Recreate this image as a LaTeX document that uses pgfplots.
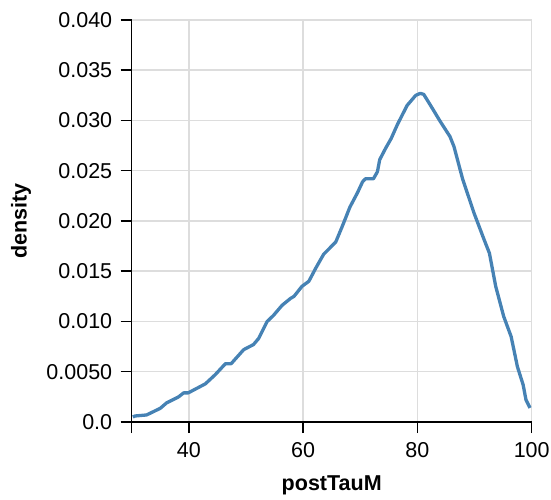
\documentclass[border=0pt]{standalone}
\usepackage{fontspec}
\setmainfont{Liberation Sans}
\usepackage{pgfplots}
\pgfplotsset{compat=1.18}
\definecolor{vblue}{HTML}{4682B4}
\definecolor{vgrid}{HTML}{DDDDDD}
\begin{document}
\begin{tikzpicture}[x=1bp,y=1bp]
\path[use as bounding box] (0,0) rectangle (551,500);
\begin{axis}[
  at={(131.7bp,78bp)}, anchor=south west,
  scale only axis, width=400bp, height=402bp,
  xmin=30, xmax=100, ymin=0, ymax=0.04,
  axis lines*=left,
  axis line style={line width=1.5bp, black},
  xtick={40,60,80,100},
  extra x ticks={30}, extra x tick labels={},
  extra x tick style={grid=none},
  ytick={0,0.005,0.01,0.015,0.02,0.025,0.03,0.035,0.04},
  yticklabels={0.0,0.0050,0.010,0.015,0.020,0.025,0.030,0.035,0.040},
  scaled y ticks=false,
  tick align=outside, major tick length=11bp,
  tick style={line width=1.5bp, black},
  grid=major, major grid style={line width=1.5bp, vgrid},
  /pgf/number format/assume math mode=true,
  ticklabel style={font=\fontsize{21.5bp}{25bp}\selectfont},
  xticklabel style={yshift=-6bp},
  yticklabel style={xshift=-5bp},
  xlabel={postTauM}, ylabel={density},
  label style={font=\fontsize{21.5bp}{25bp}\selectfont\bfseries},
  xlabel style={at={(axis description cs:0.5,0)}, anchor=north, yshift=-50bp},
  ylabel style={at={(axis description cs:0,0.5)}, anchor=south, yshift=97bp},
]
\addplot[vblue, line width=3.3bp, line join=round] coordinates {
(30.2,0.0005)(30.6,0.0006)(32.6,0.0007)(35.0,0.00136)(36.1,0.0019)(38.2,0.0025)(39.1,0.0029)(39.9,0.0029)(42.9,0.0038)(44.6,0.0047)(46.4,0.0058)(47.4,0.0058)(49.6,0.0072)(51.3,0.0077)(52.2,0.0083)(53.7,0.0100)(54.8,0.0106)(56.3,0.0116)(57.8,0.0123)(58.4,0.0125)(59.8,0.0135)(61.0,0.0140)(62.2,0.0153)(63.6,0.0167)(65.7,0.0179)(66.8,0.0194)(68.2,0.0214)(69.5,0.0228)(70.4,0.0239)(70.9,0.0242)(72.3,0.0242)(73.0,0.0249)(73.4,0.0261)(74.4,0.0272)(75.4,0.0282)(76.5,0.0296)(78.2,0.0315)(79.7,0.0325)(80.5,0.0327)(81.1,0.0326)(82.3,0.0315)(84.0,0.0299)(85.7,0.0284)(86.4,0.0274)(87.9,0.0242)(89.9,0.0208)(91.7,0.0181)(92.6,0.0168)(93.7,0.0135)(95.1,0.0105)(96.4,0.0085)(97.5,0.0055)(98.5,0.0037)(99.0,0.0022)(99.7,0.0014)
};
\end{axis}
\end{tikzpicture}
\end{document}
